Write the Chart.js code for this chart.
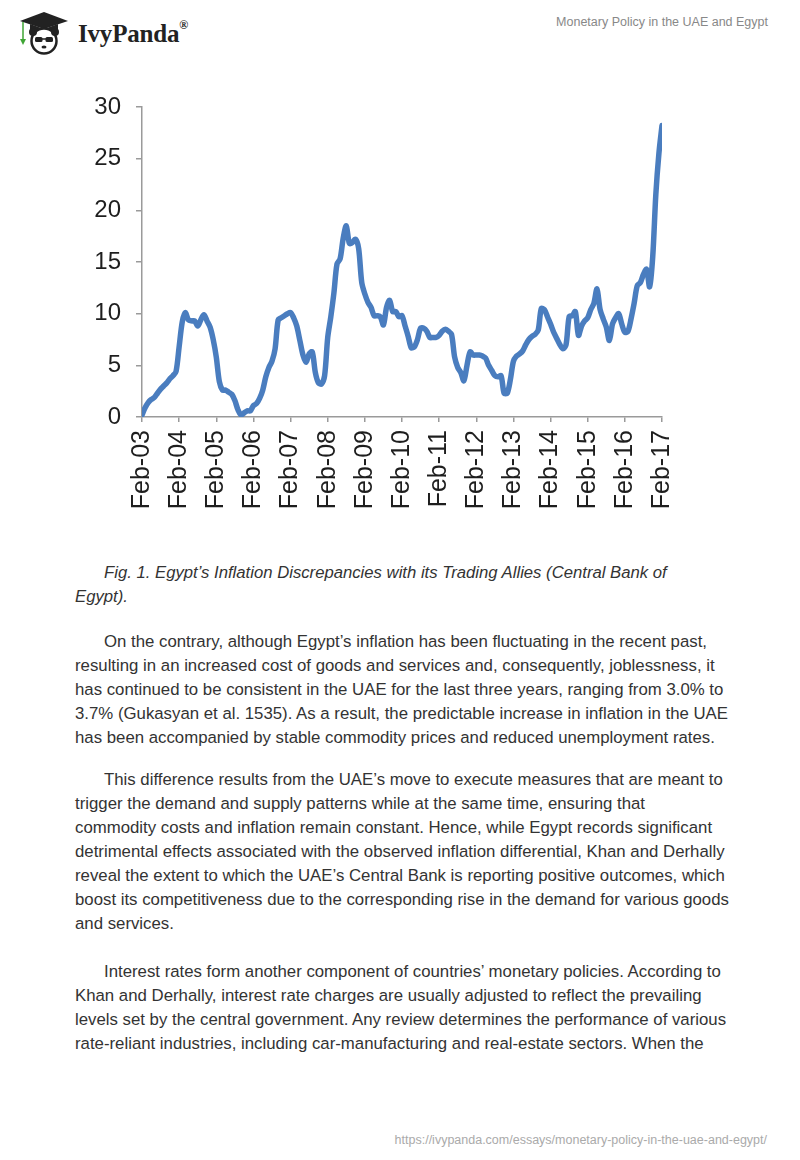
<!DOCTYPE html>
<html>
<head>
<meta charset="utf-8">
<script src="https://cdn.jsdelivr.net/npm/chart.js@4.4.0/dist/chart.umd.min.js"></script>
<style>
  html, body { margin: 0; padding: 0; background: #fff; }
  body { width: 800px; height: 1160px; position: relative; overflow: hidden;
         font-family: "Liberation Sans", Arial, sans-serif; color: #333; }
  .logo { position: absolute; left: 14px; top: 9px; }
  .brand { position: absolute; left: 78px; top: 20px; font-family: "Liberation Serif", "DejaVu Serif", serif;
           font-weight: bold; font-size: 25px; color: #222; letter-spacing: -0.2px; }
  .brand sup { font-size: 12px; position: relative; top: -4px; }
  .doc-title { position: absolute; right: 32px; top: 15px; font-size: 12.5px; color: #888; }
  #wrap { position: absolute; left: 80px; top: 90px; width: 620px; height: 440px; }
  .text { position: absolute; left: 75px; width: 700px; font-size: 16.8px; line-height: 24px; color: #333; }
  .text p { margin: 0; text-indent: 29px; white-space: nowrap; }
  .caption { font-style: italic; font-size: 16.7px; }
  .footer { position: absolute; right: 33px; top: 1133px; font-size: 12.5px; color: #aaa; }
</style>
</head>
<body>

<svg class="logo" width="60" height="46" viewBox="0 0 60 46">
  <!-- mortarboard -->
  <polygon points="6,12 30,3 54,12 30,20" fill="#222"/>
  <path d="M16,15 L16,22 Q30,27 44,22 L44,15 L30,20 Z" fill="#222"/>
  <line x1="9" y1="13" x2="9" y2="30" stroke="#3fa535" stroke-width="1.5"/>
  <path d="M6,30 L9,36 L12,30 Z" fill="#3fa535"/>
  <!-- head -->
  <circle cx="30" cy="32" r="12.5" fill="#fff" stroke="#222" stroke-width="2.5"/>
  <circle cx="19" cy="23" r="4" fill="#222"/>
  <circle cx="41" cy="23" r="4" fill="#222"/>
  <rect x="21" y="28" width="7.5" height="5" rx="1.5" fill="#222"/>
  <rect x="31.5" y="28" width="7.5" height="5" rx="1.5" fill="#222"/>
  <line x1="28" y1="30" x2="32" y2="30" stroke="#222" stroke-width="1.5"/>
  <ellipse cx="30" cy="38" rx="2.5" ry="1.6" fill="#222"/>
</svg>
<div class="brand">IvyPanda<sup>®</sup></div>
<div class="doc-title">Monetary Policy in the UAE and Egypt</div>

<div id="wrap"><canvas id="inflationChart"></canvas></div>

<div class="text caption" style="top:561px;">
  <p>Fig. 1. Egypt’s Inflation Discrepancies with its Trading Allies (Central Bank of<br>Egypt).</p>
</div>

<div class="text" style="top:630px;">
  <p>On the contrary, although Egypt’s inflation has been fluctuating in the recent past,<br>resulting in an increased cost of goods and services and, consequently, joblessness, it<br>has continued to be consistent in the UAE for the last three years, ranging from 3.0% to<br>3.7% (Gukasyan et al. 1535). As a result, the predictable increase in inflation in the UAE<br>has been accompanied by stable commodity prices and reduced unemployment rates.</p>
</div>

<div class="text" style="top:768px;">
  <p>This difference results from the UAE’s move to execute measures that are meant to<br>trigger the demand and supply patterns while at the same time, ensuring that<br>commodity costs and inflation remain constant. Hence, while Egypt records significant<br>detrimental effects associated with the observed inflation differential, Khan and Derhally<br>reveal the extent to which the UAE’s Central Bank is reporting positive outcomes, which<br>boost its competitiveness due to the corresponding rise in the demand for various goods<br>and services.</p>
</div>

<div class="text" style="top:960px;">
  <p>Interest rates form another component of countries’ monetary policies. According to<br>Khan and Derhally, interest rate charges are usually adjusted to reflect the prevailing<br>levels set by the central government. Any review determines the performance of various<br>rate-reliant industries, including car-manufacturing and real-estate sectors. When the</p>
</div>

<div class="footer">https://ivypanda.com/essays/monetary-policy-in-the-uae-and-egypt/</div>

<script>
// tick labels, one per February
const yearLabels = ['Feb-03', 'Feb-04', 'Feb-05', 'Feb-06', 'Feb-07', 'Feb-08', 'Feb-09',
  'Feb-10', 'Feb-11', 'Feb-12', 'Feb-13', 'Feb-14', 'Feb-15', 'Feb-16', 'Feb-17'];

// monthly inflation, Feb-03 .. Feb-17
const inflation = [
  0.2, 0.9, 1.4, 1.7, 1.9, 2.3, 2.7, 3.0, 3.3, 3.7, 4.0, 4.4,
  6.8, 9.2, 10.1, 9.4, 9.3, 9.3, 8.8, 9.4, 9.9, 9.3, 8.7, 7.5,
  5.8, 3.4, 2.6, 2.6, 2.4, 2.2, 1.6, 0.7, 0.2, 0.4, 0.6, 0.6,
  1.1, 1.3, 1.8, 2.6, 3.9, 4.8, 5.4, 6.6, 9.4, 9.6, 9.8, 10.0,
  10.1, 9.6, 8.8, 7.4, 6.0, 5.3, 6.1, 6.3, 4.3, 3.3, 3.2, 4.0,
  7.7, 9.7, 12.0, 14.8, 15.3, 17.3, 18.5, 16.8, 16.9, 17.2, 16.3, 13.0,
  11.9, 11.1, 10.6, 9.8, 9.8, 9.7, 8.9, 10.6, 11.3, 10.2, 10.2, 9.7,
  9.8, 8.8, 7.8, 6.7, 6.8, 7.5, 8.6, 8.6, 8.3, 7.7, 7.7, 7.7,
  7.9, 8.3, 8.5, 8.3, 8.0, 5.8, 4.8, 4.3, 3.5, 5.0, 6.3, 6.0,
  6.0, 6.0, 5.9, 5.7, 5.0, 4.5, 4.0, 3.9, 4.0, 2.3, 2.3, 3.6,
  5.4, 5.9, 6.1, 6.4, 7.0, 7.5, 7.8, 8.0, 8.4, 10.5, 10.4, 9.7,
  9.0, 8.2, 7.6, 7.0, 6.6, 7.0, 9.7, 9.8, 10.2, 7.9, 8.8, 9.3,
  9.6, 10.4, 11.0, 12.4, 10.4, 9.5, 8.7, 7.4, 9.0, 9.6, 10.0, 9.0,
  8.2, 8.3, 9.5, 11.0, 12.7, 13.0, 13.8, 14.3, 12.6, 15.5, 21.5, 25.5,
  28.2
];

const yTicks = [0, 5, 10, 15, 20, 25, 30];

const points = inflation.map(function (v, i) { return { x: i, y: v }; });

const ctx = document.getElementById('inflationChart');

new Chart(ctx, {
  type: 'line',
  data: {
    datasets: [{
      data: points,
      borderColor: '#4a7dbf',
      borderWidth: 5.5,
      borderCapStyle: 'round',
      borderJoinStyle: 'round',
      pointRadius: 0,
      tension: 0.3,
      fill: false
    }]
  },
  options: {
    responsive: true,
    maintainAspectRatio: false,
    animation: false,
    layout: { padding: { top: 17, right: 33, bottom: 0, left: 0 } },
    plugins: {
      legend: { display: false },
      tooltip: { enabled: false }
    },
    scales: {
      x: {
        type: 'linear',
        min: 0,
        max: (yearLabels.length - 1) * 12,
        afterFit: function (scale) { scale.height = 113; },
        afterBuildTicks: function (scale) {
          scale.ticks = yearLabels.map(function (l, i) { return { value: i * 12 }; });
        },
        ticks: {
          autoSkip: false,
          minRotation: 90,
          maxRotation: 90,
          padding: 8,
          color: '#1e1e1e',
          font: { family: 'Liberation Sans', size: 25 },
          callback: function (v) { return yearLabels[v / 12]; }
        },
        grid: { drawOnChartArea: false, drawTicks: true, tickLength: 5, color: '#9a9a9a', lineWidth: 1.5 },
        border: { color: '#9a9a9a', width: 1.5 }
      },
      y: {
        min: 0,
        max: 30,
        afterFit: function (scale) {
          // fixed axis width; let layout padding decide the top of the plot
          scale.width = 62;
          scale.paddingTop = 0;
          scale.paddingBottom = 0;
        },
        afterBuildTicks: function (scale) {
          scale.ticks = yTicks.map(function (v) { return { value: v }; });
        },
        ticks: {
          padding: 15,
          color: '#1e1e1e',
          font: { family: 'Liberation Sans', size: 24 }
        },
        grid: { drawOnChartArea: false, drawTicks: true, tickLength: 6, color: '#9a9a9a', lineWidth: 1.5 },
        border: { color: '#9a9a9a', width: 1.5 }
      }
    }
  }
});
</script>
</body>
</html>
